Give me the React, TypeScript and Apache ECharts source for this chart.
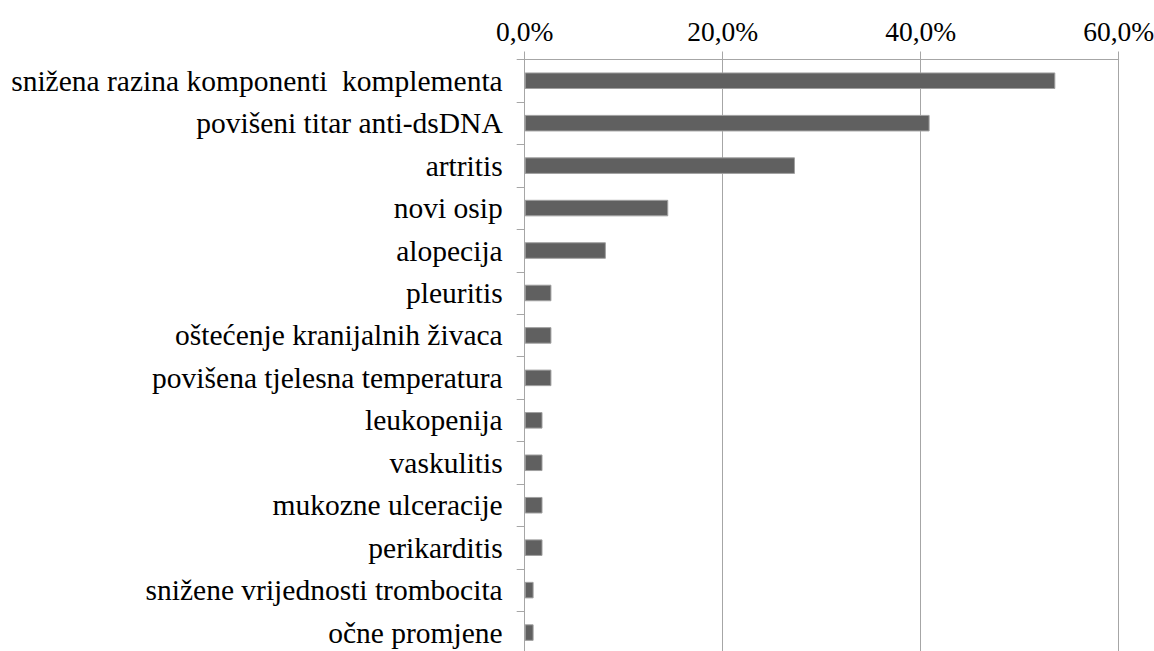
import React, { useEffect, useRef } from "react";
import * as echarts from "echarts";

const categories: string[] = [
  "snižena razina komponenti  komplementa",
  "povišeni titar anti-dsDNA",
  "artritis",
  "novi osip",
  "alopecija",
  "pleuritis",
  "oštećenje kranijalnih živaca",
  "povišena tjelesna temperatura",
  "leukopenija",
  "vaskulitis",
  "mukozne ulceracije",
  "perikarditis",
  "snižene vrijednosti trombocita",
  "očne promjene",
];

const values: number[] = [53.6, 40.9, 27.3, 14.5, 8.2, 2.7, 2.7, 2.7, 1.8, 1.8, 1.8, 1.8, 0.9, 0.9];

const xMin = 0;
const xMax = 60;
const xInterval = 20;

const FONT = "Liberation Serif";

export default function App() {
  const ref = useRef<HTMLDivElement>(null);
  useEffect(() => {
    if (!ref.current) return;
    const chart = echarts.init(ref.current, null, { renderer: "svg" });
    chart.setOption({
      animation: false,
      backgroundColor: "#ffffff",
      textStyle: { fontFamily: FONT },
      grid: {
        left: 524.7,
        top: 59.5,
        right: 35.3,
        height: 594.3,
        containLabel: false,
        outerBoundsMode: "none",
      },
      xAxis: {
        type: "value",
        position: "top",
        min: xMin,
        max: xMax,
        interval: xInterval,
        axisLine: { show: true, lineStyle: { color: "#a6a6a6", width: 1 } },
        axisTick: { show: true, length: 8, lineStyle: { color: "#a6a6a6" } },
        splitLine: { show: true, lineStyle: { color: "#a6a6a6", width: 1 } },
        axisLabel: {
          color: "#000",
          fontFamily: FONT,
          fontSize: 27.5,
          margin: 14,
          formatter: (v: number) => v.toFixed(1).replace(".", ",") + "%",
        },
      },
      yAxis: {
        type: "category",
        inverse: true,
        data: categories,
        axisLine: { show: true, lineStyle: { color: "#a6a6a6", width: 1 } },
        axisTick: { show: true, length: 8, lineStyle: { color: "#a6a6a6" } },
        axisLabel: {
          color: "#000",
          fontFamily: FONT,
          fontSize: 29.5,
          margin: 22,
          interval: 0,
        },
        splitLine: { show: false },
      },
      series: [
        {
          type: "bar",
          data: values,
          barCategoryGap: "61%",
          itemStyle: { color: "#606060", borderColor: "#a0a0a0", borderWidth: 1 },
        },
      ],
    });
    return () => chart.dispose();
  }, []);
  return (
    <div
      ref={ref}
      style={{ position: "fixed", left: 0, top: 0, width: 1154, height: 651, background: "#fff" }}
    />
  );
}
